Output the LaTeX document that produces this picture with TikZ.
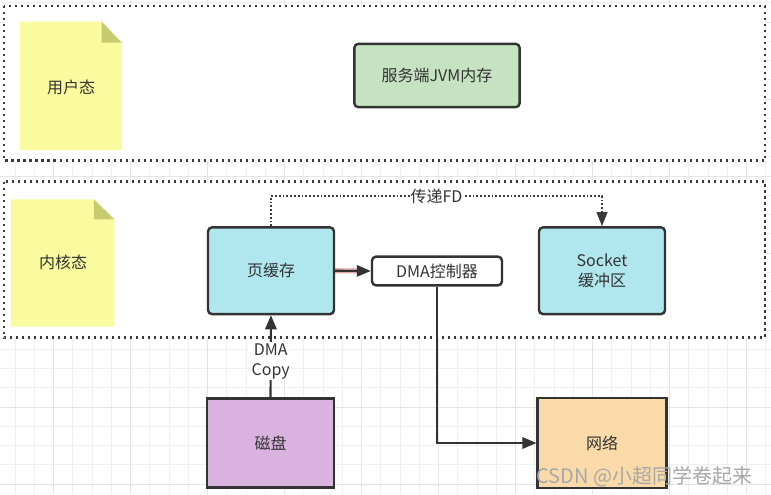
\documentclass[tikz,border=0pt]{standalone}
\usepackage{fontspec}
\newfontfamily\cjk{Noto Sans CJK SC}
\usetikzlibrary{arrows.meta}
\definecolor{gminorc}{HTML}{F0F0F0}
\definecolor{gmajorc}{HTML}{E4E4E4}
\definecolor{edgec}{HTML}{333333}
\definecolor{dotc}{HTML}{3A3A3A}
\definecolor{txtc}{HTML}{333333}
\definecolor{noteY}{HTML}{FAFA9E}
\definecolor{noteF}{HTML}{C8CA70}
\definecolor{greenF}{HTML}{C5E3C0}
\definecolor{cyanF}{HTML}{B0E6EE}
\definecolor{purpleF}{HTML}{DAB2E0}
\definecolor{orangeF}{HTML}{F9DAA8}
\definecolor{pinkc}{HTML}{E2A8A8}
\definecolor{wmc}{HTML}{A8A8A8}
\begin{document}
\begin{tikzpicture}[x=0.75pt,y=-0.75pt,
  every node/.style={font=\cjk\fontsize{12pt}{15pt}\selectfont, text=txtc},
  gminor/.style={draw=gminorc, line width=0.75pt},
  gmajor/.style={draw=gmajorc, line width=0.75pt},
  zone/.style={draw=dotc, fill=white, line width=1.8pt, dash pattern=on 1.8pt off 2.7pt},
  boxr/.style={draw=edgec, line width=1.8pt, rounded corners=3pt, inner sep=0pt, align=center},
  boxs/.style={draw=edgec, line width=1.8pt, inner sep=0pt, align=center},
  arr/.style={draw=edgec, line width=1.6pt, -{Triangle[length=10.5pt,width=8.5pt]}},
  fdline/.style={draw=dotc, line width=1.35pt, dash pattern=on 1.35pt off 1.5pt, -{Triangle[length=10.5pt,width=8pt]}},
  lbl/.style={fill=white, inner sep=1pt, align=center}
]
\useasboundingbox (0,0) rectangle (771,494);
\fill[white] (0,0) rectangle (771,494);
% background grid
\foreach \k in {0,...,39}{\pgfmathsetmacro\gx{15.2+19.25*\k}\draw[gminor] (\gx,0) -- (\gx,494);}
\foreach \k in {0,...,25}{\pgfmathsetmacro\gy{2.8+19.25*\k}\draw[gminor] (0,\gy) -- (771,\gy);}
\foreach \k in {2,6,...,38}{\pgfmathsetmacro\gx{15.2+19.25*\k}\draw[gmajor] (\gx,0) -- (\gx,494);}
\foreach \k in {1,5,...,25}{\pgfmathsetmacro\gy{2.8+19.25*\k}\draw[gmajor] (0,\gy) -- (771,\gy);}
% zones
\path[zone] (4,6) rectangle (765,160.5);
\path[zone] (4,181.5) rectangle (765,337.5);
% notes
\fill[noteY] (20,21.7) -- (101.7,21.7) -- (121.7,42.7) -- (121.7,150) -- (20,150) -- cycle;
\fill[noteF] (101.7,21.7) -- (121.7,42.7) -- (101.7,42.7) -- cycle;
\node (user) at (71,87) {用户态};
\fill[noteY] (10.8,199.3) -- (93.8,199.3) -- (114.3,219.3) -- (114.3,326.7) -- (10.8,326.7) -- cycle;
\fill[noteF] (93.8,199.3) -- (114.3,219.3) -- (93.8,219.3) -- cycle;
\node (kern) at (63,262) {内核态};
% boxes
\node[boxr, fill=greenF, minimum width=124pt, minimum height=47.5pt] (jvm) at (437,75.5) {服务端JVM内存};
\node[boxr, fill=cyanF, minimum width=94.5pt, minimum height=65pt] (page) at (271,270.75) {页缓存};
\node[boxr, fill=white, minimum width=97.5pt, minimum height=21.5pt] (dma) at (437,271) {DMA控制器};
\node[boxr, fill=cyanF, minimum width=94.5pt, minimum height=65pt] (sock) at (602,270.75) {Socket\\缓冲区};
\node[boxs, fill=purpleF, minimum width=95.5pt, minimum height=66.5pt] (disk) at (270.5,443) {磁盘};
\node[boxs, fill=orangeF, minimum width=96.5pt, minimum height=67.5pt] (net) at (602,443) {网络};
% connectors
\coordinate (fdA) at (271,196);
\coordinate (fdB) at (602,196);
\draw[fdline] (page.north) -- (fdA) -- node[lbl, inner sep=0.5pt] {传递FD} (fdB) -- (sock.north);
\draw[pinkc, line width=3.8pt] (page.east) -- ([xshift=-8pt]dma.west);
\draw[arr] (page.east) -- (dma.west);
\draw[arr] (disk.north) -- node[lbl, pos=0.44] {DMA\\Copy} (page.south);
\draw[arr] (dma.south) |- (net.west);
% watermark
\node[font=\cjk\fontsize{15pt}{18pt}\selectfont, text=wmc, anchor=east] (wm) at (757,477) {CSDN @小超同学卷起来};
\end{tikzpicture}
\end{document}
